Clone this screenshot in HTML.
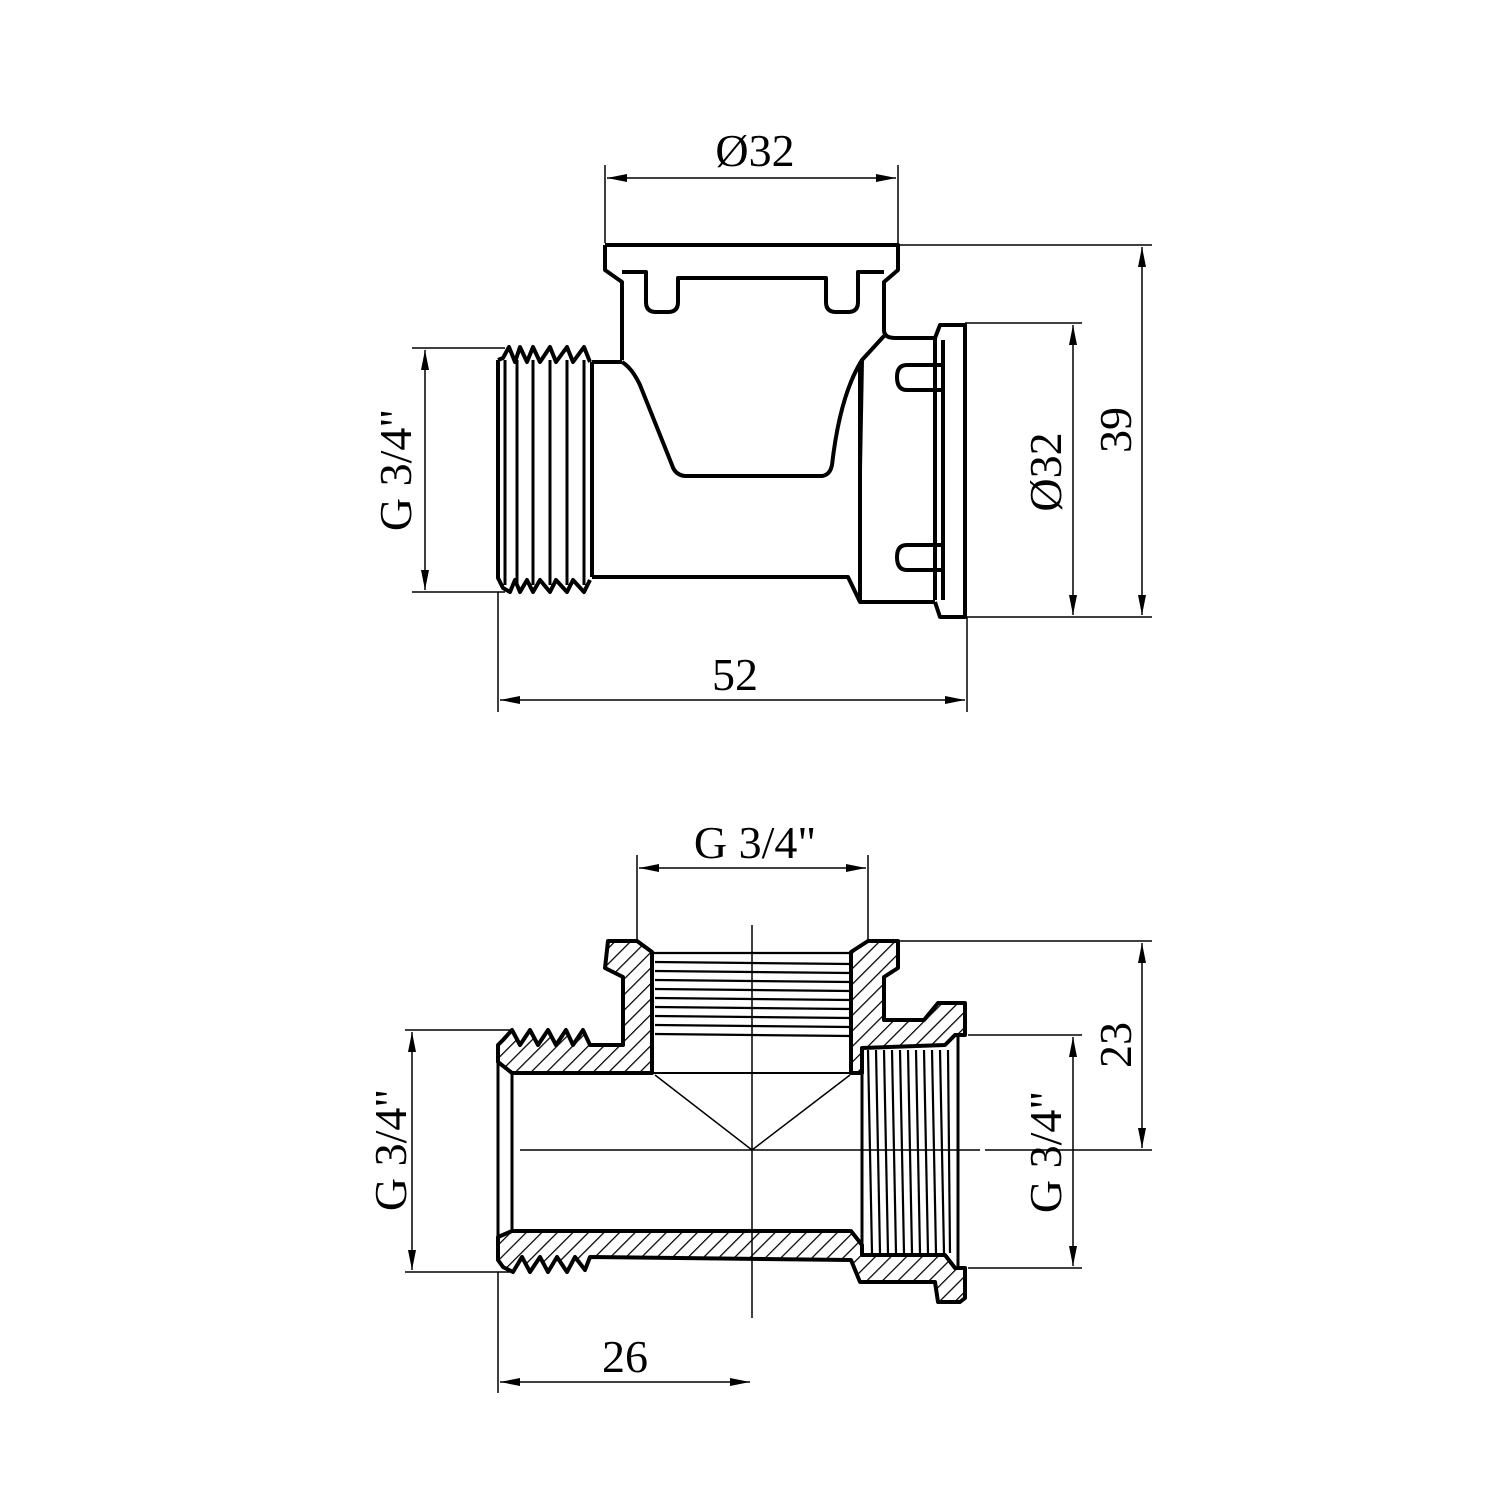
<!DOCTYPE html>
<html><head><meta charset="utf-8"><style>
html,body{margin:0;padding:0;background:#fff;}
svg{display:block;}
text{font-family:"Liberation Serif",serif;font-size:46px;fill:#000;}
</style></head><body>
<svg width="1500" height="1500" viewBox="0 0 1500 1500" xmlns="http://www.w3.org/2000/svg">
<defs>
<pattern id="h" patternUnits="userSpaceOnUse" width="11" height="11" patternTransform="rotate(45)">
<rect width="11" height="11" fill="#fff"/><line x1="0" y1="0" x2="0" y2="11" stroke="#000" stroke-width="2.5"/>
</pattern>
<marker id="a" viewBox="0 0 20 8" refX="20" refY="4" markerWidth="20" markerHeight="8" markerUnits="userSpaceOnUse" orient="auto-start-reverse">
<path d="M0,0 L20,4 L0,8 Z" fill="#000"/></marker>
</defs>

<!-- ===== TOP VIEW ===== -->
<g fill="none" stroke="#000" stroke-width="4" stroke-linejoin="round">
<path d="M605,245 L898,245 L898,270 L884,282 L884,330 Q884,338 895,338 L935,338"/>
<path d="M605,245 L605,270 L622,282 L622,360"/>
<path d="M622,272 L646,272 L646,302 Q646,312 656,312 L668,312 Q678,312 678,302 L678,278 L826,278 L826,302 Q826,312 836,312 L848,312 Q858,312 858,302 L858,272 L884,272"/>
<path d="M622,362 Q632,368 640,385 L672,465 Q675,475 685,476 L822,476 Q830,475 832,465 Q840,395 862,360 L884,336"/>
<path d="M862,360 L860,470"/>
<path d="M592,362 L622,362"/>
<path d="M592,577 L848,577 L860,602 L935,602"/>
<path d="M592,362 L592,577"/>
<path d="M860,362 L860,602"/>
<path d="M935,338 L935,600"/>
<path d="M935,338 L940,325 L965,325 L965,617 L940,617 L935,602"/>
<path d="M943,340 L943,600"/>
<path d="M943,365 L907,365 Q897,365 897,377 Q897,390 907,390 L943,390"/>
<path d="M943,545 L907,545 Q897,545 897,557 Q897,570 907,570 L943,570"/>
<path d="M498,360 L503,358 L509,347 L515,362 L520,347 L527,362 L533,347 L540,362 L550,347 L556,362 L567,347 L573,362 L584,347 L590,362"/>
<path d="M498,360 L498,578 L503,588 L510,592 L515,580 L520,592 L527,580 L533,592 L540,580 L550,592 L556,580 L567,592 L573,580 L584,592 L590,580"/>
<path d="M505,360 L505,585 M517,360 L517,585 M533,360 L533,585 M550,360 L550,585 M567,360 L567,585 M584,360 L584,585" stroke-width="3"/>
</g>

<g stroke="#000" stroke-width="1.5" fill="none">
<line x1="605" y1="165" x2="605" y2="243"/>
<line x1="898" y1="165" x2="898" y2="243"/>
<line x1="607" y1="178" x2="896" y2="178" marker-start="url(#a)" marker-end="url(#a)"/>
<line x1="898" y1="245" x2="1152" y2="245"/>
<line x1="965" y1="323" x2="1082" y2="323"/>
<line x1="965" y1="617" x2="1152" y2="617"/>
<line x1="1142" y1="247" x2="1142" y2="615" marker-start="url(#a)" marker-end="url(#a)"/>
<line x1="1073" y1="325" x2="1073" y2="615" marker-start="url(#a)" marker-end="url(#a)"/>
<line x1="412" y1="348" x2="505" y2="348"/>
<line x1="412" y1="592" x2="505" y2="592"/>
<line x1="425" y1="350" x2="425" y2="590" marker-start="url(#a)" marker-end="url(#a)"/>
<line x1="498" y1="592" x2="498" y2="712"/>
<line x1="967" y1="617" x2="967" y2="712"/>
<line x1="500" y1="700" x2="965" y2="700" marker-start="url(#a)" marker-end="url(#a)"/>
</g>
<text x="755" y="166" text-anchor="middle">Ø32</text>
<text x="735" y="690" text-anchor="middle">52</text>
<text transform="translate(1131,430) rotate(-90)" text-anchor="middle">39</text>
<text transform="translate(1061,472) rotate(-90)" text-anchor="middle">Ø32</text>
<text transform="translate(411,470) rotate(-90)" text-anchor="middle">G 3/4"</text>

<!-- ===== SECTION VIEW ===== -->
<g stroke="#000" stroke-width="4" stroke-linejoin="round" fill="url(#h)">
<path d="M608,941 L637,941 L652,952 L652,1073 L512,1073 L498,1062 L498,1045 L503,1040 L512,1030 L520,1045 L530,1030 L538,1045 L548,1030 L556,1045 L566,1030 L573,1045 L583,1030 L590,1045 L623,1045 L623,977 L605,968 Z"/>
<path d="M868,941 L898,941 L898,968 L884,977 L884,1020 L924,1020 L938,1003 L965,1003 L965,1035 L955,1035 L945,1045 L862,1048 L862,1073 L851,1073 L851,952 Z"/>
<path d="M498,1237 L512,1231 L851,1231 L862,1245 L862,1255 L945,1255 L955,1268 L965,1268 L965,1298 L960,1302 L938,1302 L935,1282 L860,1282 L851,1260 L590,1257 L585,1270 L575,1257 L567,1272 L557,1257 L548,1272 L540,1257 L530,1272 L522,1257 L513,1272 L503,1267 L498,1260 Z"/>
</g>
<g stroke="#000" fill="none">
<line x1="512" y1="1073" x2="512" y2="1231" stroke-width="3"/>
<line x1="498" y1="1062" x2="498" y2="1237" stroke-width="3"/>
<line x1="862" y1="1073" x2="862" y2="1245" stroke-width="3"/>
<line x1="652" y1="1073" x2="851" y2="1073" stroke-width="2"/>
<g stroke-width="2.2">
<line x1="652" y1="953" x2="851" y2="953"/>
<line x1="655" y1="962" x2="851" y2="964"/>
<line x1="655" y1="971" x2="851" y2="973"/>
<line x1="655" y1="980" x2="851" y2="982"/>
<line x1="655" y1="989" x2="851" y2="991"/>
<line x1="655" y1="998" x2="851" y2="1000"/>
<line x1="655" y1="1007" x2="851" y2="1009"/>
<line x1="655" y1="1016" x2="851" y2="1018"/>
<line x1="655" y1="1025" x2="851" y2="1027"/>
<line x1="655" y1="1034" x2="851" y2="1036"/>
<line x1="868" y1="1050" x2="872" y2="1253"/>
<line x1="876" y1="1050" x2="880" y2="1253"/>
<line x1="884" y1="1050" x2="888" y2="1253"/>
<line x1="892" y1="1050" x2="896" y2="1253"/>
<line x1="900" y1="1050" x2="904" y2="1253"/>
<line x1="908" y1="1050" x2="912" y2="1253"/>
<line x1="916" y1="1050" x2="920" y2="1253"/>
<line x1="924" y1="1050" x2="928" y2="1253"/>
<line x1="932" y1="1050" x2="936" y2="1253"/>
<line x1="940" y1="1050" x2="944" y2="1253"/>
<line x1="948" y1="1050" x2="950" y2="1253"/>
<line x1="958" y1="1035" x2="958" y2="1268" stroke-width="3"/>
</g>
<g stroke-width="1.5">
<line x1="752" y1="925" x2="752" y2="1318"/>
<line x1="520" y1="1150" x2="980" y2="1150"/>
<line x1="985" y1="1150" x2="1000" y2="1150"/>
<line x1="655" y1="1075" x2="752" y2="1150"/>
<line x1="850" y1="1075" x2="752" y2="1150"/>
</g>
</g>

<g stroke="#000" stroke-width="1.5" fill="none">
<line x1="637" y1="855" x2="637" y2="941"/>
<line x1="868" y1="855" x2="868" y2="941"/>
<line x1="639" y1="868" x2="866" y2="868" marker-start="url(#a)" marker-end="url(#a)"/>
<line x1="898" y1="941" x2="1152" y2="941"/>
<line x1="1000" y1="1150" x2="1152" y2="1150"/>
<line x1="1142" y1="943" x2="1142" y2="1148" marker-start="url(#a)" marker-end="url(#a)"/>
<line x1="968" y1="1035" x2="1082" y2="1035"/>
<line x1="968" y1="1268" x2="1082" y2="1268"/>
<line x1="1073" y1="1037" x2="1073" y2="1266" marker-start="url(#a)" marker-end="url(#a)"/>
<line x1="405" y1="1030" x2="510" y2="1030"/>
<line x1="405" y1="1272" x2="510" y2="1272"/>
<line x1="412" y1="1032" x2="412" y2="1270" marker-start="url(#a)" marker-end="url(#a)"/>
<line x1="498" y1="1272" x2="498" y2="1393"/>
<line x1="500" y1="1382" x2="750" y2="1382" marker-start="url(#a)" marker-end="url(#a)"/>
</g>
<text x="755" y="858" text-anchor="middle">G 3/4"</text>
<text x="625" y="1372" text-anchor="middle">26</text>
<text transform="translate(1131,1045) rotate(-90)" text-anchor="middle">23</text>
<text transform="translate(1061,1152) rotate(-90)" text-anchor="middle">G 3/4"</text>
<text transform="translate(406,1150) rotate(-90)" text-anchor="middle">G 3/4"</text>
</svg>
</body></html>
